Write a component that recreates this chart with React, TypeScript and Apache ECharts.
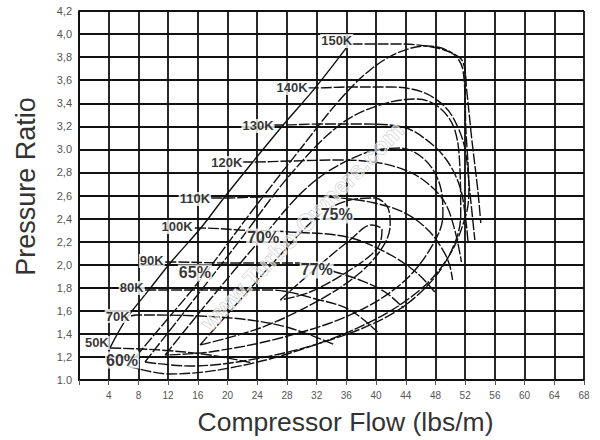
import React, { useEffect, useRef } from "react";
import * as echarts from "echarts";

const FONT = '"Liberation Sans", Arial, sans-serif';

// Axis tick labels
const prTickLabels = ["1.0", "1,2", "1,4", "1,6", "1,8", "2,0", "2,2", "2,4", "2,6", "2,8", "3.0", "3,2", "3,4", "3,6", "3,8", "4,0", "4,2"];

// Surge line [flow lbs/min, pressure ratio]
const surgeLine = [[4.17, 1.278], [6.46, 1.538], [9.42, 1.781], [12.4, 2.023], [16.4, 2.318], [19.5, 2.578], [23.4, 2.891], [27.5, 3.212], [31.8, 3.533], [36.2, 3.897]];

// Speed lines
const speed150 = [[36.7, 3.914], [39.2, 3.914], [43.2, 3.914], [47.5, 3.888], [50.2, 3.836], [51.7, 3.758], [52.2, 3.515], [52.9, 3.082], [53.7, 2.648], [54.1, 2.362]];
const speed140 = [[30.8, 3.533], [31.8, 3.533], [36.5, 3.541], [41.9, 3.541], [46.2, 3.498], [49.3, 3.368], [51.0, 3.194], [52.0, 2.995], [52.6, 2.648], [53.3, 2.214]];
const speed130 = [[26.1, 3.212], [27.5, 3.212], [32.4, 3.22], [37.8, 3.22], [43.6, 3.194], [46.8, 3.082], [49.5, 2.908], [51.3, 2.674], [52.0, 2.431], [52.4, 2.188]];
const speed120 = [[21.9, 2.891], [23.4, 2.891], [28.4, 2.899], [35.1, 2.908], [40.5, 2.882], [44.5, 2.804], [47.2, 2.691], [49.3, 2.535], [50.6, 2.301], [51.5, 2.023]];
const speed110 = [[17.8, 2.578], [19.5, 2.578], [24.4, 2.587], [29.7, 2.596], [35.1, 2.578], [39.8, 2.535], [43.9, 2.448], [47.0, 2.301], [49.0, 2.127], [49.9, 1.997], [50.3, 1.867]];
const speed100 = [[15.6, 2.318], [16.4, 2.318], [21.7, 2.301], [28.4, 2.284], [36.1, 2.24], [41.5, 2.101], [45.5, 1.928], [47.9, 1.763]];
const speed90 = [[11.6, 2.023], [12.4, 2.023], [20.3, 2.015], [29.7, 2.015], [34.5, 1.937], [37.8, 1.867], [41.2, 1.763], [43.7, 1.624]];
const speed80 = [[8.9, 1.781], [9.4, 1.781], [19.0, 1.781], [25.7, 1.781], [32.4, 1.694], [36.5, 1.607], [40.2, 1.416]];
const speed70 = [[7.0, 1.555], [7.7, 1.564], [16.3, 1.555], [23.0, 1.52], [28.4, 1.451], [34.5, 1.304]];
const speed50 = [[4.2, 1.278], [10.9, 1.26], [17.6, 1.217], [23.4, 1.147]];

// Efficiency islands
const eff60 = [[6.59, 1.121], [10.9, 1.451], [16.3, 1.867], [23.4, 2.474], [29.7, 2.995], [35.1, 3.428], [39.2, 3.689], [43.2, 3.845], [47.0, 3.897], [50.2, 3.836], [51.7, 3.689], [52.1, 3.168], [52.5, 2.648], [52.1, 2.431], [49.9, 2.084], [45.9, 1.781], [39.2, 1.503], [29.7, 1.26], [20.3, 1.104], [12.2, 1.052], [6.59, 1.121]];
const eff65 = [[8.88, 1.156], [14.9, 1.65], [21.7, 2.214], [28.4, 2.778], [35.1, 3.212], [40.5, 3.385], [45.6, 3.437], [48.6, 3.359], [50.6, 3.168], [51.3, 2.821], [51.4, 2.431], [50.2, 2.127], [47.0, 1.824], [41.9, 1.564], [33.8, 1.347], [24.4, 1.191], [14.9, 1.121], [8.88, 1.156]];
const eff70 = [[11.6, 1.217], [17.6, 1.694], [24.4, 2.214], [31.1, 2.691], [37.8, 2.951], [43.2, 3.012], [46.6, 2.908], [48.6, 2.691], [49.0, 2.431], [47.2, 2.127], [43.2, 1.824], [36.5, 1.564], [27.1, 1.364], [17.6, 1.243], [11.6, 1.217]];
const eff75 = [[16.3, 1.304], [21.7, 1.694], [27.1, 2.084], [32.4, 2.431], [36.5, 2.561], [39.8, 2.578], [41.6, 2.492], [41.9, 2.344], [40.9, 2.154], [37.8, 1.928], [32.4, 1.694], [24.4, 1.451], [16.3, 1.304]];
const eff77 = [[27.1, 1.694], [32.4, 1.997], [36.5, 2.214], [39.4, 2.344], [40.8, 2.301], [40.2, 2.145], [36.5, 1.954], [31.1, 1.763], [27.1, 1.694]];

// Labels [flow, PR, text]
const speedLabels: [number, number, string][] = [
  [34.7, 3.94, "150K"], [28.7, 3.533, "140K"], [24.1, 3.203, "130K"], [19.9, 2.882, "120K"],
  [15.6, 2.57, "110K"], [13.2, 2.327, "100K"], [9.8, 2.032, "90K"], [7.1, 1.798, "80K"],
  [5.2, 1.555, "70K"], [2.4, 1.321, "50K"],
];
const effLabels: [number, number, string][] = [
  [5.8, 1.173, "60%"], [15.6, 1.928, "65%"], [24.8, 2.24, "70%"], [34.7, 2.431, "75%"], [32.0, 1.954, "77%"],
];

const curves = [speed150, speed140, speed130, speed120, speed110, speed100, speed90, speed80, speed70, speed50, eff60, eff65, eff70, eff75, eff77];

export default function App() {
  const ref = useRef<HTMLDivElement>(null);
  useEffect(() => {
    if (!ref.current) return;
    const chart = echarts.init(ref.current, null, { renderer: "svg" });
    const lineS = (data: number[][]) => ({
      type: "line",
      data,
      smooth: 0.35,
      symbol: "none",
      showSymbol: false,
      silent: true,
      z: 3,
      lineStyle: { color: "#111", width: 1.4, type: [11, 2] },
    });
    const labelS = (items: [number, number, string][], size: number) => ({
      type: "scatter",
      data: items.map(([x, y, t]) => ({ value: [x, y], name: t })),
      symbolSize: 1,
      itemStyle: { color: "rgba(0,0,0,0)" },
      silent: true,
      z: 10,
      label: {
        show: true,
        position: "inside",
        formatter: "{b}",
        color: "#000",
        fontWeight: "bold",
        fontSize: size,
        fontFamily: FONT,
        backgroundColor: "#fff",
        padding: [1, 1, 0, 1],
      },
    });
    chart.setOption({
      animation: false,
      backgroundColor: "#fff",
      grid: { left: 79, right: 16, top: 11, bottom: 60, containLabel: false, outerBoundsMode: "none" },
      xAxis: {
        type: "value",
        min: 0,
        max: 68,
        interval: 4,
        name: "Compressor Flow (lbs/m)",
        nameLocation: "middle",
        nameGap: 28,
        nameTextStyle: { fontSize: 26.5, color: "#333", fontFamily: FONT, padding: [0, 0, 0, 28] },
        axisLine: { show: true, lineStyle: { color: "#111", width: 2 } },
        axisTick: { show: true, length: 5, lineStyle: { color: "#555", width: 1 } },
        axisLabel: { color: "#555", fontSize: 10, margin: 10, fontFamily: FONT, formatter: (v: number) => (v === 0 ? "" : String(v)) },
        splitLine: { show: true, lineStyle: { color: "#111", width: 1.8 } },
      },
      yAxis: {
        type: "value",
        min: 1.0,
        max: 4.2,
        interval: 0.2,
        name: "Pressure Ratio",
        nameLocation: "middle",
        nameRotate: 90,
        nameGap: 40,
        nameTextStyle: { fontSize: 27, color: "#333", fontFamily: FONT, padding: [0, 0, 0, 18] },
        axisLine: { show: true, lineStyle: { color: "#111", width: 2 } },
        axisTick: { show: false },
        axisLabel: {
          color: "#555",
          fontSize: 11,
          margin: 7,
          fontFamily: FONT,
          formatter: (v: number) => prTickLabels[Math.round((v - 1) / 0.2)] ?? "",
        },
        splitLine: { show: true, lineStyle: { color: "#111", width: 1.8 } },
      },
      graphic: [
        {
          type: "text",
          x: 302,
          y: 226,
          rotation: 0.8,
          z: 5,
          silent: true,
          style: {
            text: "www.Turbo-Owners.com",
            fill: "rgba(255,255,255,0.55)",
            stroke: "#c2c2c2",
            lineWidth: 0.7,
            font: 'bold 24px "Liberation Sans", Arial, sans-serif',
            align: "center",
            verticalAlign: "middle",
          },
        },
      ],
      series: [
        { ...lineS(surgeLine), lineStyle: { color: "#111", width: 1.4, type: "solid" } },
        ...curves.map(lineS),
        labelS(speedLabels, 13),
        labelS(effLabels, 16),
      ],
    });
    return () => chart.dispose();
  }, []);
  return <div ref={ref} style={{ position: "fixed", left: 0, top: 0, width: 600, height: 440, background: "#fff" }} />;
}
